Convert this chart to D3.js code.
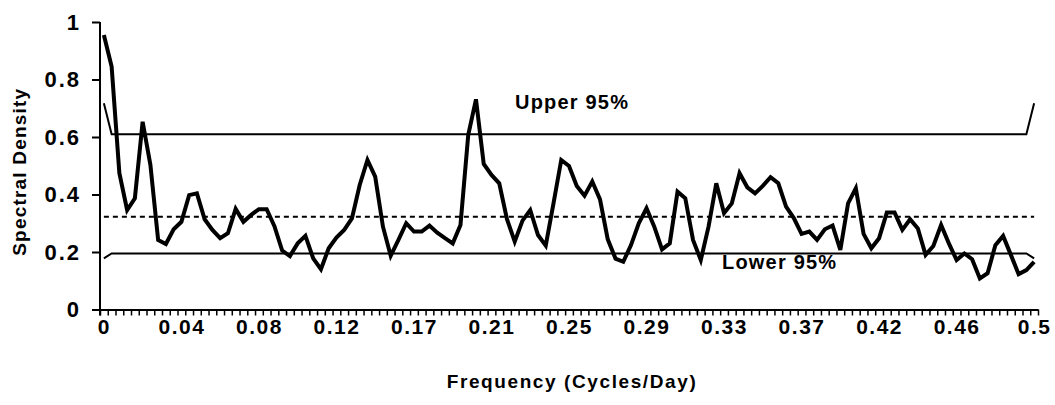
<!DOCTYPE html>
<html><head><meta charset="utf-8">
<script src="https://cdn.jsdelivr.net/npm/d3@7"></script>
<style>
body{margin:0;background:#fff}
svg text{font-family:"Liberation Sans",Arial,sans-serif;font-weight:bold;fill:#000}
</style>
</head><body><svg id="c" width="1055" height="405"></svg>
<script>
// ---- data ----
const spectral = [
 0.955,0.845,0.474,0.346,0.387,0.653,0.503,0.242,0.228,0.279,
 0.305,0.398,0.404,0.314,0.277,0.248,0.265,0.350,0.305,0.329,
 0.349,0.349,0.290,0.205,0.186,0.230,0.256,0.178,0.140,0.213,
 0.250,0.277,0.317,0.433,0.520,0.462,0.288,0.187,0.242,0.300,
 0.271,0.271,0.292,0.267,0.248,0.230,0.294,0.607,0.731,0.506,
 0.468,0.439,0.314,0.236,0.309,0.346,0.259,0.222,0.369,0.520,
 0.499,0.430,0.396,0.445,0.383,0.244,0.177,0.166,0.224,0.300,
 0.352,0.288,0.209,0.230,0.410,0.387,0.242,0.172,0.288,0.439,
 0.335,0.369,0.474,0.425,0.404,0.430,0.460,0.439,0.358,0.318,
 0.263,0.271,0.242,0.279,0.292,0.207,0.369,0.422,0.263,0.213,
 0.248,0.337,0.337,0.277,0.314,0.282,0.190,0.221,0.294,0.230,
 0.172,0.195,0.175,0.108,0.126,0.224,0.256,0.190,0.123,0.137,
 0.166
];
const xTickIndex  = [0,10,20,30,40,50,60,70,80,90,100,110,120];
const xTickLabels = ["0","0.04","0.08","0.12","0.17","0.21","0.25","0.29","0.33","0.37","0.42","0.46","0.5"];
const yTicks      = [0,0.2,0.4,0.6,0.8,1];
const yTickLabels = ["0","0.2","0.4","0.6","0.8","1"];
const upperIdx = [0,1,119,120];
const upperVal = [0.717,0.610,0.610,0.717];
const lowerIdx = [0,1,119,120];
const lowerVal = [0.178,0.195,0.195,0.178];
const meanIdx  = [0,120];
const meanVal  = [0.323,0.323];

// ---- layout ----
const svg = d3.select("#c");
const x = d3.scaleLinear().domain([-0.5, spectral.length - 0.5]).range([100, 1038]);
const y = d3.scaleLinear().domain([0, 1]).range([309.5, 22]);
const line = d3.line().x(d => x(d[0])).y(d => y(d[1]));
const zip = (a, b) => a.map((v, i) => [v, b[i]]);
const FONT = '"Liberation Sans",Arial,sans-serif';

// x axis: small ticks between categories
const bounds = d3.range(spectral.length + 1).map(i => i - 0.5);
const gx = svg.append("g").attr("transform", `translate(0,${y(0)})`)
  .call(d3.axisBottom(x).tickValues(bounds).tickFormat("").tickSize(6).tickSizeOuter(0));
gx.select(".domain").attr("stroke-width", 2).attr("stroke", "#000");
gx.selectAll(".tick line").attr("stroke-width", 1.5).attr("stroke", "#000");

const gxl = svg.append("g").attr("transform", `translate(0,${y(0)})`)
  .call(d3.axisBottom(x).tickValues(xTickIndex).tickFormat((d, i) => xTickLabels[i]).tickSize(0).tickPadding(10));
gxl.select(".domain").remove();
gxl.selectAll("text").attr("font-size", 21).attr("letter-spacing", 1.5)
  .attr("font-family", FONT).attr("font-weight", "bold");

// y axis
const gy = svg.append("g").attr("transform", `translate(${x(-0.5)},0)`)
  .call(d3.axisLeft(y).tickValues(yTicks).tickFormat((d, i) => yTickLabels[i]).tickSize(8).tickPadding(11).tickSizeOuter(0));
gy.select(".domain").attr("stroke-width", 2).attr("stroke", "#000")
  .attr("d", `M0,${y(1)}V${y(0) + 6}`);
gy.selectAll(".tick line").attr("stroke-width", 2).attr("stroke", "#000");
gy.selectAll("text").attr("font-size", 22).attr("letter-spacing", 2)
  .attr("font-family", FONT).attr("font-weight", "bold");

// reference lines
svg.append("path").attr("d", line(zip(upperIdx, upperVal)))
  .attr("fill", "none").attr("stroke", "#000").attr("stroke-width", 2);
svg.append("path").attr("d", line(zip(lowerIdx, lowerVal)))
  .attr("fill", "none").attr("stroke", "#000").attr("stroke-width", 2);
svg.append("path").attr("d", line(zip(meanIdx, meanVal)))
  .attr("fill", "none").attr("stroke", "#000").attr("stroke-width", 2)
  .attr("stroke-dasharray", "5,4");

// spectral series
svg.append("path").attr("d", line(spectral.map((v, i) => [i, v])))
  .attr("fill", "none").attr("stroke", "#000").attr("stroke-width", 4)
  .attr("stroke-linejoin", "miter");

// labels
svg.append("text").attr("x", 515).attr("y", 109).attr("font-size", 20)
  .attr("letter-spacing", 1.2).text("Upper 95%");
svg.append("text").attr("x", 722).attr("y", 269).attr("font-size", 20)
  .attr("letter-spacing", 1.2).text("Lower 95%");

svg.append("text").attr("x", (x(-0.5) + x(120.5)) / 2 + 3).attr("y", 388)
  .attr("text-anchor", "middle").attr("font-size", 19).attr("letter-spacing", 1.6)
  .text("Frequency (Cycles/Day)");
svg.append("text").attr("transform", `translate(26,${(y(0) + y(1)) / 2 + 6}) rotate(-90)`)
  .attr("text-anchor", "middle").attr("font-size", 19).attr("letter-spacing", 1.2)
  .text("Spectral Density");
</script></body></html>
